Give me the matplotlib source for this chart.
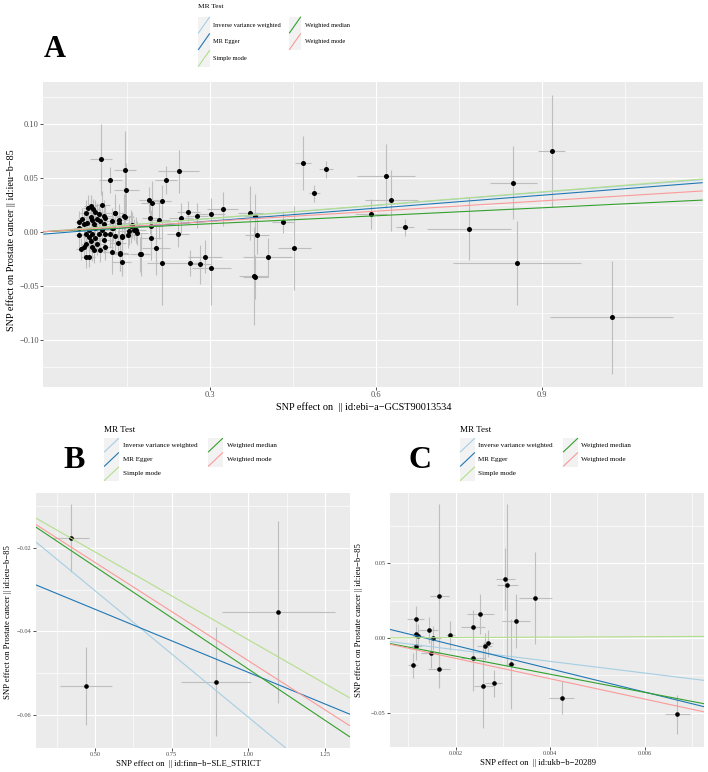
import matplotlib
matplotlib.use("Agg")
import matplotlib.pyplot as plt
from matplotlib.patches import Rectangle
from matplotlib.lines import Line2D
from matplotlib.ticker import FixedLocator

W, H = 708, 772
plt.rcParams['font.family'] = ['Liberation Serif', 'DejaVu Serif']

# ---------------- data ----------------
methods = ["Inverse variance weighted", "MR Egger", "Simple mode",
           "Weighted median", "Weighted mode"]
method_colors = ["#a6cee3", "#1f78b4", "#b2df8a", "#33a02c", "#fb9a99"]

# Panel A (id:ebi-a-GCST90013534 -> Prostate cancer)
a_x = [0.084, 0.080, 0.088, 0.105, 0.075, 0.093, 0.099, 0.108, 0.111, 0.069,
       0.084, 0.087, 0.096, 0.102, 0.078, 0.072, 0.090, 0.108, 0.129, 0.144,
       0.123, 0.135, 0.124, 0.159, 0.162, 0.168, 0.153, 0.141, 0.129, 0.063,
       0.081, 0.093, 0.105, 0.075, 0.087, 0.099, 0.111, 0.081, 0.093, 0.084,
       0.075, 0.096, 0.108, 0.072, 0.087, 0.102, 0.066, 0.090, 0.122, 0.138,
       0.140, 0.174, 0.075, 0.082, 0.120, 0.111, 0.064, 0.064,
       0.103, 0.147, 0.120, 0.149, 0.189, 0.195, 0.214, 0.220, 0.243, 0.192,
       0.207, 0.248, 0.261, 0.277, 0.302, 0.323, 0.373, 0.382, 0.385, 0.193,
       0.193, 0.242, 0.2025, 0.175, 0.214, 0.263, 0.282, 0.291, 0.302, 0.128,
       0.136, 0.146, 0.158, 0.166, 0.152, 0.141, 0.134, 0.137, 0.122,
       0.379, 0.382, 0.404, 0.431, 0.452, 0.468, 0.488, 0.509,
       0.591, 0.618, 0.627, 0.652, 0.768, 0.848, 0.854, 0.917, 1.026]
a_y = [0.024, 0.022, 0.021, 0.025, 0.017, 0.018, 0.016, 0.015, 0.013, 0.012,
       0.014, 0.011, 0.012, 0.010, 0.008, 0.007, 0.007, 0.007, 0.017, 0.015,
       0.010, 0.008, 0.003, 0.006, 0.002, -0.001, 0.001, -0.004, -0.004, 0.003,
       0.002, 0.003, 0.002, -0.002, -0.002, -0.002, -0.002, -0.005, -0.006, -0.009,
       -0.011, -0.011, -0.008, -0.014, -0.014, -0.017, -0.016, -0.017, -0.019, -0.021,
       -0.028, -0.021, -0.023, -0.023, -0.002, -0.014, 0.009, -0.003,
       0.067, 0.057, 0.048, 0.039, 0.029, 0.027, 0.028, 0.048, 0.056, 0.013,
       0.011, 0.013, 0.018, 0.015, 0.016, 0.021, 0.017, 0.015, -0.003, 0.005,
       -0.006, -0.002, -0.015, -0.021, -0.029, -0.029, -0.030, -0.023, -0.034, 0.017,
       0.011, 0.014, 0.005, 0.002, -0.003, -0.005, -0.010, -0.020, 0.003,
       -0.041, -0.042, -0.0235, 0.009, -0.0154, 0.064, 0.0355, 0.0577,
       0.0164, 0.0515, 0.029, 0.004, 0.0028, 0.0454, -0.0287, 0.075, -0.0793]
a_se_x = [0.012, 0.010, 0.012, 0.015, 0.010, 0.014, 0.012, 0.015, 0.013, 0.008,
          0.011, 0.010, 0.013, 0.012, 0.010, 0.009, 0.012, 0.014, 0.018, 0.016,
          0.016, 0.017, 0.015, 0.020, 0.018, 0.020, 0.019, 0.018, 0.015, 0.008,
          0.010, 0.012, 0.013, 0.010, 0.011, 0.012, 0.014, 0.010, 0.012, 0.011,
          0.009, 0.012, 0.013, 0.009, 0.011, 0.012, 0.008, 0.011, 0.015, 0.016,
          0.017, 0.018, 0.009, 0.010, 0.014, 0.013, 0.008, 0.008,
          0.020, 0.020, 0.021, 0.022, 0.018, 0.020, 0.015, 0.020, 0.037, 0.015,
          0.020, 0.022, 0.020, 0.020, 0.025, 0.028, 0.022, 0.020, 0.022, 0.018,
          0.018, 0.020, 0.026, 0.012, 0.028, 0.025, 0.020, 0.030, 0.035, 0.014,
          0.015, 0.016, 0.020, 0.018, 0.015, 0.016, 0.014, 0.015, 0.013,
          0.026, 0.022, 0.044, 0.020, 0.030, 0.015, 0.010, 0.013,
          0.029, 0.052, 0.048, 0.017, 0.076, 0.042, 0.116, 0.025, 0.111]
a_se_y = [0.010, 0.012, 0.009, 0.013, 0.012, 0.011, 0.010, 0.014, 0.012, 0.010,
          0.013, 0.011, 0.015, 0.012, 0.010, 0.013, 0.011, 0.012, 0.014, 0.020,
          0.012, 0.013, 0.012, 0.012, 0.010, 0.011, 0.013, 0.012, 0.014, 0.011,
          0.012, 0.010, 0.011, 0.012, 0.013, 0.010, 0.012, 0.011, 0.012, 0.010,
          0.012, 0.011, 0.012, 0.010, 0.013, 0.011, 0.010, 0.012, 0.020, 0.015,
          0.013, 0.016, 0.011, 0.010, 0.012, 0.012, 0.010, 0.011,
          0.033, 0.036, 0.012, 0.025, 0.012, 0.020, 0.015, 0.013, 0.020, 0.015,
          0.018, 0.014, 0.010, 0.012, 0.015, 0.016, 0.025, 0.020, 0.018, 0.015,
          0.020, 0.012, 0.025, 0.020, 0.039, 0.012, 0.018, 0.015, 0.034, 0.018,
          0.015, 0.020, 0.015, 0.012, 0.012, 0.013, 0.012, 0.016, 0.014,
          0.045, 0.020, 0.018, 0.010, 0.039, 0.025, 0.008, 0.008,
          0.014, 0.030, 0.028, 0.008, 0.029, 0.034, 0.039, 0.052, 0.052]
a_slope = [0.0405, 0.0400, 0.0410, 0.0246, 0.0317]
a_intercept = [0.0, -0.0022, 0.0, 0.0, 0.0]
a_xticks = [0.3, 0.6, 0.9]
a_xticklabels = ["0.3", "0.6", "0.9"]
a_yticks = [-0.10, -0.05, 0.0, 0.05, 0.10]
a_yticklabels = ["\u22120.10", "\u22120.05", "0.00", "0.05", "0.10"]

# Panel B (id:finn-b-SLE_STRICT -> Prostate cancer)
b_x = [0.422, 0.471, 0.894, 1.098]
b_y = [-0.0177, -0.0531, -0.0520, -0.0353]
b_se_x = [0.060, 0.084, 0.114, 0.185]
b_se_y = [0.0082, 0.0093, 0.0130, 0.0217]
b_slope = [-0.0605, -0.0302, -0.0420, -0.0490, -0.0470]
b_intercept = [0.0, -0.0196, 0.0, 0.0, 0.0]
b_xticks = [0.50, 0.75, 1.00, 1.25]
b_xticklabels = ["0.50", "0.75", "1.00", "1.25"]
b_yticks = [-0.06, -0.04, -0.02]
b_yticklabels = ["\u22120.06", "\u22120.04", "\u22120.02"]

# Panel C (id:ukb-b-20289 -> Prostate cancer)
c_x = [0.00115, 0.00115, 0.00121, 0.00117, 0.00109, 0.00143, 0.00153, 0.00147,
       0.00165, 0.00165, 0.00189, 0.00237, 0.00237, 0.00252, 0.00258, 0.00261,
       0.00268, 0.00280, 0.00305, 0.00309, 0.00316, 0.00328, 0.00368, 0.00424,
       0.00669]
c_y = [0.0127, 0.0025, 0.0015, -0.0056, -0.0183, 0.0053, -0.0002, -0.0100,
       0.0281, -0.0207, 0.0018, 0.0076, -0.0131, 0.0163, -0.0321, -0.0056,
       -0.0036, -0.0303, 0.0394, 0.0354, -0.0176, 0.0116, 0.0267, -0.0399,
       -0.0508]
c_se_x = [0.00017, 0.00010, 0.00012, 0.00012, 0.00010, 0.00020, 0.00015, 0.00020,
          0.00020, 0.00023, 0.00010, 0.00025, 0.00026, 0.00029, 0.00020, 0.00015,
          0.00010, 0.00018, 0.00020, 0.00022, 0.00010, 0.00030, 0.00035, 0.00027,
          0.00026]
c_se_y = [0.0089, 0.0060, 0.0080, 0.0090, 0.0085, 0.0087, 0.0080, 0.0097,
          0.0615, 0.0120, 0.0095, 0.0110, 0.0220, 0.0134, 0.0280, 0.0090,
          0.0090, 0.0090, 0.0208, 0.0540, 0.0300, 0.0180, 0.0310, 0.0110,
          0.0130]
c_slope = [-3.90, -7.77, 0.15, -6.05, -6.80]
c_intercept = [0.0, 0.0105, 0.0, 0.0, 0.0]
c_xticks = [0.002, 0.004, 0.006]
c_xticklabels = ["0.002", "0.004", "0.006"]
c_yticks = [-0.05, 0.0, 0.05]
c_yticklabels = ["\u22120.05", "0.00", "0.05"]

ylabel_text = "SNP effect on Prostate cancer || id:ieu\u2212b\u221285"
a_xlabel = "SNP effect on  || id:ebi\u2212a\u2212GCST90013534"
b_xlabel = "SNP effect on  || id:finn\u2212b\u2212SLE_STRICT"
c_xlabel = "SNP effect on  || id:ukb\u2212b\u221220289"

# ---------------- drawing ----------------
fig = plt.figure(figsize=(W / 100, H / 100), dpi=100)
fig.patch.set_facecolor("white")


def px_axes(l, t, r, b):
    return fig.add_axes([l / W, 1 - b / H, (r - l) / W, (b - t) / H])


def fx(x):
    return x / W


def fy(y):
    return 1 - y / H


def style_panel(ax, xlim, ylim, xt, xtl, yt, ytl, xminor, yminor, tsize):
    ax.set_facecolor("#EBEBEB")
    for s in ax.spines.values():
        s.set_visible(False)
    ax.set_xlim(*xlim)
    ax.set_ylim(*ylim)
    ax.set_xticks(xt)
    ax.set_xticklabels(xtl)
    ax.set_yticks(yt)
    ax.set_yticklabels(ytl)
    ax.xaxis.set_minor_locator(FixedLocator(xminor))
    ax.yaxis.set_minor_locator(FixedLocator(yminor))
    ax.grid(which="major", color="white", lw=0.85)
    ax.grid(which="minor", color="white", lw=0.45)
    ax.set_axisbelow(True)
    ax.tick_params(which="major", length=2.4, width=0.6, color="#333333",
                   labelsize=tsize, labelcolor="#4D4D4D", pad=0.8)
    ax.tick_params(which="minor", length=0)


def draw_panel(ax, x, y, sx, sy, slopes, intercepts, msize):
    ax.errorbar(x, y, xerr=sx, yerr=sy, fmt="none", ecolor="#BEBEBE",
                elinewidth=0.8, capsize=0, zorder=2)
    ax.scatter(x, y, s=msize, color="black", zorder=3, linewidths=0)
    x0, x1 = ax.get_xlim()
    for m, c, k, b0 in zip(methods, method_colors, slopes, intercepts):
        ax.plot([x0, x1], [b0 + k * x0, b0 + k * x1], color=c, lw=0.8,
                zorder=4, solid_capstyle="butt")
    ax.set_xlim(x0, x1)


def draw_legend(title_x, title_y, tsize, kx1, kx2, rows, kw, kh, tx1, tx2, lsize):
    fig.text(fx(title_x), fy(title_y), "MR Test", fontsize=tsize,
             ha="left", va="center", color="black")
    cols = [(kx1, tx1), (kx2, tx2)]
    for i, (m, c) in enumerate(zip(methods, method_colors)):
        col = 0 if i < 3 else 1
        row = i if i < 3 else i - 3
        kx, tx = cols[col]
        top = rows[row]
        fig.add_artist(Rectangle((fx(kx), fy(top + kh)), kw / W, kh / H,
                                 transform=fig.transFigure, facecolor="#F2F2F2",
                                 edgecolor="none"))
        fig.add_artist(Line2D([fx(kx + 0.5), fx(kx + kw - 0.5)],
                              [fy(top + kh - 0.5), fy(top + 0.5)],
                              transform=fig.transFigure, color=c, lw=0.8))
        fig.text(fx(tx), fy(top + kh / 2), m, fontsize=lsize, ha="left",
                 va="center", color="black")


# Panel A
axA = px_axes(43.3, 82, 702.7, 386.7)
style_panel(axA, (-0.0013, 1.19), (-0.1435, 0.1386), a_xticks, a_xticklabels,
            a_yticks, a_yticklabels, [0.15, 0.45, 0.75, 1.05],
            [-0.125, -0.075, -0.025, 0.025, 0.075, 0.125], 6.0)
draw_panel(axA, a_x, a_y, a_se_x, a_se_y, a_slope, a_intercept, 13)
fig.text(fx(364), fy(407), a_xlabel, fontsize=7.4, ha="center", va="center")
fig.text(fx(11), fy(240), ylabel_text, fontsize=7.4, ha="center", va="center",
         rotation=90)
fig.text(fx(55), fy(57.3), "A", fontsize=22, fontweight="bold", ha="center",
         va="baseline")
draw_legend(198, 7, 5.3, 198, 289, [16.7, 33.3, 50.0], 12, 16.7, 213, 305, 4.6)

# Panel B
axB = px_axes(35.7, 492.7, 350, 747.7)
style_panel(axB, (0.307, 1.3315), (-0.0678, -0.00685), b_xticks, b_xticklabels,
            b_yticks, b_yticklabels, [0.375, 0.625, 0.875, 1.125],
            [-0.05, -0.03, -0.01], 4.6)
draw_panel(axB, b_x, b_y, b_se_x, b_se_y, b_slope, b_intercept, 11)
fig.text(fx(188), fy(764), b_xlabel, fontsize=6.2, ha="center", va="center")
fig.text(fx(8.5), fy(622), ylabel_text, fontsize=6.2, ha="center", va="center",
         rotation=90)
fig.text(fx(74), fy(468.3), "B", fontsize=23, fontweight="bold", ha="center",
         va="baseline")
draw_legend(104, 430, 6.6, 104, 208, [438, 452.3, 466.6], 15, 14.3, 123.3, 226.7, 5.1)

# Panel C
axC = px_axes(390, 492.7, 704.3, 746.7)
style_panel(axC, (0.00061, 0.00726), (-0.0726, 0.0971), c_xticks, c_xticklabels,
            c_yticks, c_yticklabels, [0.001, 0.003, 0.005, 0.007],
            [-0.025, 0.025, 0.075], 4.6)
draw_panel(axC, c_x, c_y, c_se_x, c_se_y, c_slope, c_intercept, 11)
fig.text(fx(538), fy(763), c_xlabel, fontsize=6.2, ha="center", va="center")
fig.text(fx(359), fy(620), ylabel_text, fontsize=6.2, ha="center", va="center",
         rotation=90)
fig.text(fx(420), fy(468), "C", fontsize=23, fontweight="bold", ha="center",
         va="baseline")
draw_legend(460, 430, 6.6, 460, 563, [438, 452.3, 466.6], 15, 14.3, 478.3, 581, 5.1)

fig.savefig("out.png", dpi=100, facecolor="white")
